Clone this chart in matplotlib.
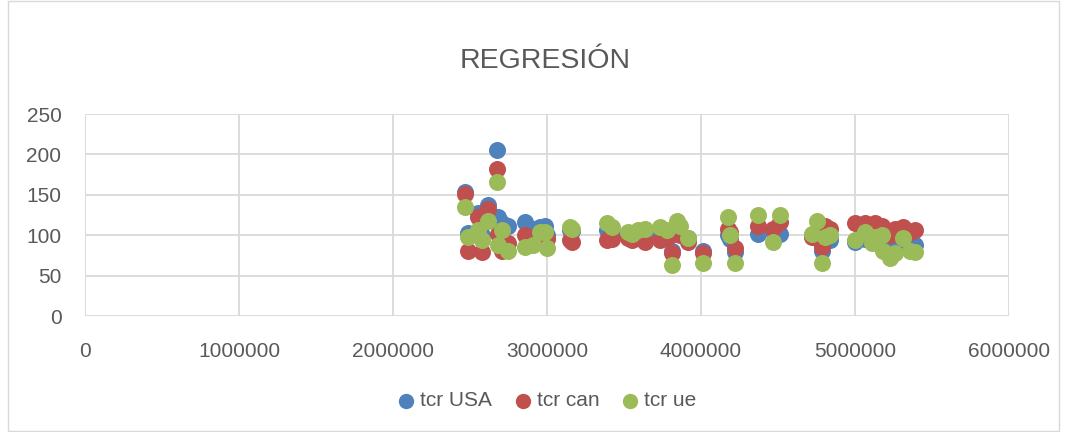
import matplotlib
matplotlib.use("Agg")
import matplotlib.pyplot as plt
from matplotlib.patches import Rectangle

plt.rcParams['font.family'] = ['Liberation Sans', 'DejaVu Sans']

title = "REGRESIÓN"
series_names = ["tcr USA", "tcr can", "tcr ue"]
colors = ["#4F81BD", "#C0504D", "#9BBB59"]

x_vals = [2468000, 2487000, 2552000, 2578000, 2617000, 2675000, 2682000, 2708000,
          2747000, 2857000, 2909000, 2955000, 2987000, 3000000, 3149000, 3162000,
          3390000, 3422000, 3526000, 3552000, 3591000, 3636000, 3734000, 3779000,
          3812000, 3844000, 3864000, 3916000, 4013000, 4175000, 4188000, 4221000,
          4370000, 4468000, 4513000, 4721000, 4753000, 4786000, 4805000, 4838000,
          5000000, 5065000, 5110000, 5130000, 5175000, 5182000, 5227000, 5260000,
          5312000, 5357000, 5390000]

tcr_usa = [153, 103, 128, 100, 137, 205, 122, 115, 112, 116, 108, 110, 112, 100,
           107, 105, 106, 104, 98, 97, 100, 98, 99, 100, 81, 103, 101, 96, 80,
           100, 95, 79, 102, 105, 102, 100, 98, 81, 100, 94, 92, 95, 92, 96, 93,
           85, 80, 88, 92, 85, 88]

tcr_can = [151, 80, 122, 79, 133, 182, 102, 81, 90, 100, 90, 95, 90, 95,
           94, 92, 94, 95, 96, 94, 96, 91, 94, 96, 78, 102, 100, 91, 78,
           108, 104, 84, 112, 108, 116, 98, 96, 85, 112, 108, 115, 115, 110, 115, 112,
           106, 100, 108, 110, 104, 106]

tcr_ue = [135, 98, 106, 94, 118, 166, 88, 106, 81, 85, 88, 104, 104, 84,
          110, 108, 115, 110, 104, 102, 106, 108, 110, 106, 63, 117, 112, 97, 65,
          122, 100, 65, 125, 91, 125, 102, 118, 65, 98, 100, 94, 104, 90, 98, 100,
          81, 72, 78, 96, 80, 79]

x_ticks = [0, 1000000, 2000000, 3000000, 4000000, 5000000, 6000000]
y_ticks = [0, 50, 100, 150, 200, 250]

fig = plt.figure(figsize=(10.67, 4.32), dpi=100)
fig.patches.append(Rectangle((8/1067, 0.002), 1 - 16/1067, 0.996,
                             transform=fig.transFigure, fill=False,
                             edgecolor="#D9D9D9", linewidth=1.0))
ax = fig.add_axes([85/1067, 116/432, (1009-85)/1067, (316-114)/432])

for ys, name, c in zip([tcr_usa, tcr_can, tcr_ue], series_names, colors):
    ax.scatter(x_vals, ys, s=150, color=c, label=name, zorder=3, linewidths=0)

ax.set_xlim(0, 6000000)
ax.set_ylim(0, 250)
ax.set_xticks(x_ticks)
ax.set_xticklabels([str(v) for v in x_ticks])
ax.set_yticks(y_ticks)
ax.grid(True, color="#D9D9D9", linewidth=1.3, zorder=0)
for s in ax.spines.values():
    s.set_visible(False)
ax.tick_params(axis='both', length=0, labelsize=15, colors="#595959")
ax.tick_params(axis='x', pad=19)
ax.tick_params(axis='y', pad=17)

fig.text(545/1067, 1 - 61/432, title, ha='center', va='center',
         fontsize=20.5, color="#595959")

leg = fig.legend(loc='center', bbox_to_anchor=(545/1067, 1 - 401/432), ncol=3,
                 frameon=False, fontsize=15, handletextpad=0.05, columnspacing=0.9,
                 handlelength=1.2, markerscale=0.9)
for t in leg.get_texts():
    t.set_color("#595959")

fig.savefig("out.png", dpi=100)
